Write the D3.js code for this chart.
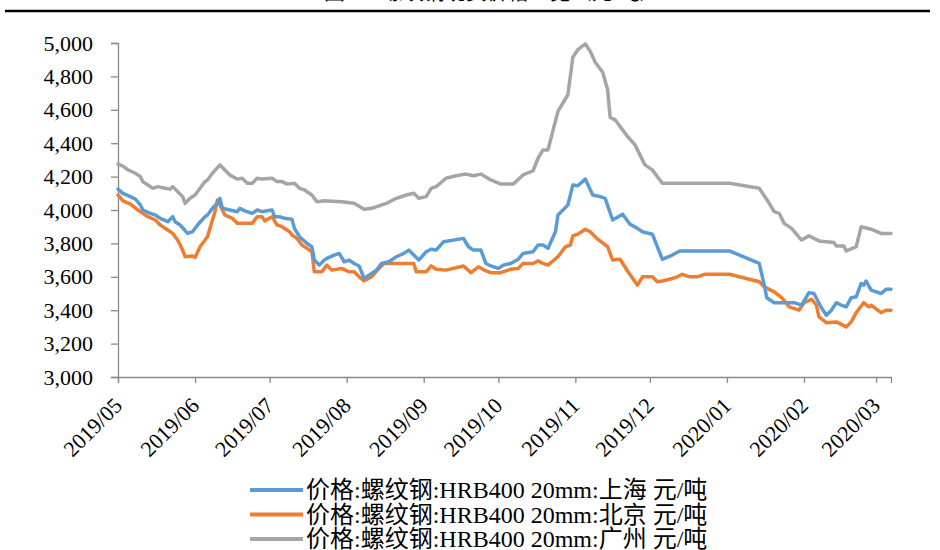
<!DOCTYPE html>
<html>
<head>
<meta charset="utf-8">
<script src="https://cdn.jsdelivr.net/npm/d3@7"></script>
<style>
  body { margin: 0; background: #fff; }
  svg { display: block; }
  text { font-family: "Liberation Serif", "Noto Sans CJK SC", serif; }
</style>
</head>
<body>
<svg id="chart" width="940" height="550"></svg>
<script>
const width = 940;
const height = 550;

// month tick labels on the x axis
const months = ["2019/05","2019/06","2019/07","2019/08","2019/09","2019/10",
  "2019/11","2019/12","2020/01","2020/02","2020/03"];

const yTicks = [3000,3200,3400,3600,3800,4000,4200,4400,4600,4800,5000];

const seriesNames = [
  "价格:螺纹钢:HRB400 20mm:上海 元/吨",
  "价格:螺纹钢:HRB400 20mm:北京 元/吨",
  "价格:螺纹钢:HRB400 20mm:广州 元/吨"
];
const colors = ["#5B9BD5","#ED7D31","#A5A5A5"];

// 上海
const shanghai = [
  ["2019-05-01",4125],["2019-05-03",4100],["2019-05-06",4080],["2019-05-08",4065],["2019-05-10",4030],
  ["2019-05-11",4000],["2019-05-14",3980],["2019-05-16",3970],["2019-05-18",3950],["2019-05-21",3930],
  ["2019-05-23",3960],["2019-05-24",3930],["2019-05-26",3910],["2019-05-29",3860],["2019-05-31",3870],
  ["2019-06-02",3910],["2019-06-05",3960],["2019-06-06",3970],["2019-06-08",4010],["2019-06-10",4040],
  ["2019-06-11",4070],["2019-06-12",4010],["2019-06-15",4000],["2019-06-18",3990],["2019-06-19",4010],
  ["2019-06-21",3995],["2019-06-24",3980],["2019-06-26",4000],["2019-06-28",3990],["2019-06-30",3995],
  ["2019-07-02",4000],["2019-07-03",3960],["2019-07-05",3960],["2019-07-07",3950],["2019-07-10",3945],
  ["2019-07-11",3890],["2019-07-13",3840],["2019-07-16",3800],["2019-07-18",3780],["2019-07-19",3700],
  ["2019-07-21",3670],["2019-07-23",3700],["2019-07-24",3710],["2019-07-27",3730],["2019-07-29",3740],
  ["2019-07-31",3690],["2019-08-02",3700],["2019-08-04",3680],["2019-08-06",3665],["2019-08-08",3590],
  ["2019-08-10",3610],["2019-08-13",3640],["2019-08-15",3680],["2019-08-18",3690],["2019-08-21",3720],
  ["2019-08-24",3740],["2019-08-26",3760],["2019-08-28",3730],["2019-08-30",3700],["2019-09-02",3750],
  ["2019-09-04",3765],["2019-09-06",3760],["2019-09-09",3810],["2019-09-17",3830],["2019-09-19",3780],
  ["2019-09-21",3760],["2019-09-24",3760],["2019-09-26",3680],["2019-09-28",3665],["2019-10-01",3650],
  ["2019-10-03",3670],["2019-10-06",3680],["2019-10-09",3705],["2019-10-11",3740],["2019-10-15",3750],
  ["2019-10-17",3790],["2019-10-19",3790],["2019-10-21",3770],["2019-10-24",3870],["2019-10-25",3970],
  ["2019-10-29",4030],["2019-10-31",4150],["2019-11-02",4145],["2019-11-05",4185],["2019-11-08",4090],
  ["2019-11-11",4080],["2019-11-13",4070],["2019-11-16",3940],["2019-11-20",3975],["2019-11-23",3915],
  ["2019-11-26",3890],["2019-11-28",3870],["2019-12-02",3855],["2019-12-06",3705],["2019-12-10",3730],
  ["2019-12-13",3755],["2020-01-02",3755],["2020-01-14",3680],["2020-01-16",3550],["2020-01-17",3475],
  ["2020-01-20",3445],["2020-01-28",3445],["2020-01-31",3430],["2020-02-03",3505],["2020-02-05",3500],
  ["2020-02-08",3415],["2020-02-10",3370],["2020-02-12",3400],["2020-02-14",3445],["2020-02-16",3430],
  ["2020-02-18",3420],["2020-02-20",3475],["2020-02-22",3480],["2020-02-24",3560],["2020-02-25",3550],
  ["2020-02-26",3575],["2020-02-28",3520],["2020-03-03",3500],["2020-03-05",3525],["2020-03-07",3525]
];

// 北京
const beijing = [
  ["2019-05-01",4090],["2019-05-03",4055],["2019-05-06",4035],["2019-05-09",4000],["2019-05-11",3980],
  ["2019-05-13",3960],["2019-05-16",3940],["2019-05-18",3910],["2019-05-21",3880],["2019-05-23",3860],
  ["2019-05-25",3820],["2019-05-27",3760],["2019-05-28",3720],["2019-05-31",3725],["2019-06-01",3715],
  ["2019-06-03",3780],["2019-06-06",3840],["2019-06-07",3890],["2019-06-09",3990],["2019-06-10",4060],
  ["2019-06-12",4000],["2019-06-13",3970],["2019-06-16",3950],["2019-06-18",3920],["2019-06-24",3920],
  ["2019-06-26",3960],["2019-06-28",3960],["2019-06-29",3935],["2019-07-02",3960],["2019-07-04",3910],
  ["2019-07-06",3900],["2019-07-09",3870],["2019-07-10",3850],["2019-07-12",3830],["2019-07-14",3790],
  ["2019-07-16",3770],["2019-07-18",3750],["2019-07-19",3630],["2019-07-22",3630],["2019-07-24",3670],
  ["2019-07-26",3640],["2019-07-30",3650],["2019-08-02",3630],["2019-08-04",3630],["2019-08-06",3600],
  ["2019-08-08",3575],["2019-08-11",3600],["2019-08-14",3650],["2019-08-16",3680],["2019-08-28",3680],
  ["2019-08-29",3630],["2019-09-02",3630],["2019-09-04",3665],["2019-09-06",3645],["2019-09-10",3640],
  ["2019-09-17",3665],["2019-09-20",3625],["2019-09-23",3660],["2019-09-26",3635],["2019-09-28",3625],
  ["2019-10-02",3625],["2019-10-06",3645],["2019-10-09",3650],["2019-10-11",3680],["2019-10-15",3680],
  ["2019-10-17",3695],["2019-10-19",3680],["2019-10-21",3670],["2019-10-25",3720],["2019-10-28",3780],
  ["2019-10-30",3790],["2019-10-31",3845],["2019-11-02",3855],["2019-11-05",3885],["2019-11-07",3870],
  ["2019-11-10",3825],["2019-11-14",3780],["2019-11-16",3700],["2019-11-19",3705],["2019-11-22",3635],
  ["2019-11-26",3550],["2019-11-28",3600],["2019-12-02",3600],["2019-12-04",3570],["2019-12-06",3575],
  ["2019-12-10",3590],["2019-12-12",3600],["2019-12-14",3615],["2019-12-17",3600],["2019-12-20",3600],
  ["2019-12-23",3615],["2020-01-02",3615],["2020-01-14",3570],["2020-01-16",3540],["2020-01-20",3510],
  ["2020-01-23",3475],["2020-01-26",3420],["2020-01-30",3400],["2020-02-01",3445],["2020-02-04",3465],
  ["2020-02-06",3430],["2020-02-07",3360],["2020-02-10",3325],["2020-02-14",3330],["2020-02-18",3300],
  ["2020-02-20",3330],["2020-02-22",3385],["2020-02-25",3445],["2020-02-27",3420],["2020-02-28",3430],
  ["2020-03-03",3385],["2020-03-05",3400],["2020-03-07",3400]
];

// 广州
const guangzhou = [
  ["2019-05-01",4275],["2019-05-03",4263],["2019-05-05",4240],["2019-05-08",4220],["2019-05-10",4200],
  ["2019-05-11",4170],["2019-05-13",4150],["2019-05-15",4130],["2019-05-17",4140],["2019-05-20",4130],
  ["2019-05-22",4125],["2019-05-23",4140],["2019-05-25",4110],["2019-05-27",4080],["2019-05-28",4040],
  ["2019-05-30",4070],["2019-06-01",4090],["2019-06-03",4130],["2019-06-05",4170],["2019-06-06",4180],
  ["2019-06-08",4220],["2019-06-11",4270],["2019-06-13",4240],["2019-06-15",4210],["2019-06-18",4185],
  ["2019-06-20",4190],["2019-06-22",4160],["2019-06-24",4160],["2019-06-26",4190],["2019-06-28",4185],
  ["2019-07-02",4190],["2019-07-04",4170],["2019-07-06",4170],["2019-07-08",4155],["2019-07-11",4160],
  ["2019-07-13",4130],["2019-07-15",4120],["2019-07-18",4090],["2019-07-20",4050],["2019-07-23",4055],
  ["2019-07-30",4050],["2019-08-04",4040],["2019-08-08",4005],["2019-08-11",4010],["2019-08-14",4025],
  ["2019-08-17",4040],["2019-08-21",4070],["2019-08-25",4090],["2019-08-28",4100],["2019-08-30",4070],
  ["2019-09-02",4080],["2019-09-04",4130],["2019-09-06",4140],["2019-09-10",4190],["2019-09-14",4205],
  ["2019-09-18",4215],["2019-09-21",4205],["2019-09-24",4215],["2019-09-28",4180],["2019-10-02",4155],
  ["2019-10-07",4155],["2019-10-11",4210],["2019-10-15",4235],["2019-10-17",4310],["2019-10-19",4360],
  ["2019-10-21",4360],["2019-10-25",4590],["2019-10-29",4690],["2019-10-31",4915],["2019-11-02",4960],
  ["2019-11-05",4995],["2019-11-07",4950],["2019-11-09",4885],["2019-11-12",4825],["2019-11-14",4720],
  ["2019-11-15",4555],["2019-11-17",4540],["2019-11-20",4480],["2019-11-22",4440],["2019-11-25",4390],
  ["2019-11-27",4330],["2019-11-29",4270],["2019-12-02",4240],["2019-12-06",4160],["2020-01-02",4160],
  ["2020-01-14",4130],["2020-01-18",4040],["2020-01-20",3990],["2020-01-22",3980],["2020-01-24",3920],
  ["2020-01-27",3890],["2020-01-31",3820],["2020-02-03",3845],["2020-02-07",3815],["2020-02-13",3805],
  ["2020-02-14",3785],["2020-02-17",3785],["2020-02-18",3755],["2020-02-22",3780],["2020-02-24",3900],
  ["2020-02-28",3885],["2020-03-03",3860],["2020-03-07",3860]
];

const series = [shanghai, beijing, guangzhou];

const parseDay = d3.timeParse("%Y-%m-%d");
const parseMonth = d3.timeParse("%Y/%m");

const svg = d3.select("#chart");

const x = d3.scaleTime()
  .domain([parseDay("2019-05-01"), parseDay("2020-03-07")])
  .range([118, 891]);

const y = d3.scaleLinear()
  .domain([3000, 5000])
  .range([377, 43]);

// cut-off title and rule at the top
svg.append("text")
  .attr("x", 324)
  .attr("y", -1)
  .attr("font-size", 21)
  .attr("fill", "#000")
  .text("图 5：螺纹钢现货价格一览（元/吨）");

svg.append("line")
  .attr("x1", 5).attr("x2", 930)
  .attr("y1", 11).attr("y2", 11)
  .attr("stroke", "#000")
  .attr("stroke-width", 2.5);

const axisColor = "#898989";

// y axis
const yAxis = svg.append("g")
  .attr("transform", "translate(118,0)")
  .call(d3.axisLeft(y).tickValues(yTicks).tickFormat(d3.format(",")).tickSize(7).tickPadding(18));

// x axis
const xAxis = svg.append("g")
  .attr("transform", "translate(0,377)")
  .call(d3.axisBottom(x).tickValues(months.map(parseMonth)).tickFormat(d3.timeFormat("%Y/%m")).tickSize(6));

[yAxis, xAxis].forEach(g => {
  g.select(".domain").attr("stroke", axisColor).attr("stroke-width", 1.3);
  g.selectAll(".tick line").attr("stroke", axisColor).attr("stroke-width", 1.3);
  g.selectAll("text").attr("font-size", 22).attr("fill", "#000")
    .attr("font-family", "Liberation Serif, serif");
});

xAxis.selectAll(".tick text")
  .attr("text-anchor", "end")
  .attr("dy", null)
  .attr("y", 0)
  .attr("transform", "translate(5,30) rotate(-45)");

// lines
const line = d3.line()
  .x(d => x(parseDay(d[0])))
  .y(d => y(d[1]));

svg.append("g")
  .selectAll("path")
  .data(series.slice().reverse())
  .join("path")
  .attr("d", line)
  .attr("fill", "none")
  .attr("stroke", (d, i) => colors[2 - i])
  .attr("stroke-width", 3.5)
  .attr("stroke-linejoin", "round")
  .attr("stroke-linecap", "round");

// legend
const legend = svg.append("g")
  .selectAll("g")
  .data(seriesNames)
  .join("g")
  .attr("transform", (d, i) => `translate(250,${490 + i * 24.5})`);

legend.append("line")
  .attr("x1", 0).attr("x2", 53)
  .attr("stroke", (d, i) => colors[i])
  .attr("stroke-width", 4);

legend.append("text")
  .attr("x", 56)
  .attr("y", 8)
  .attr("font-size", 24)
  .attr("fill", "#000")
  .text(d => d);
</script>
</body>
</html>
